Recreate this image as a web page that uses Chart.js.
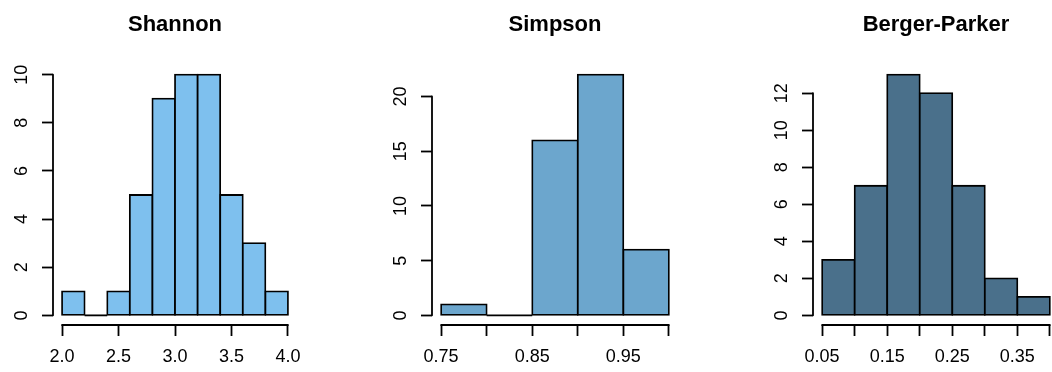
<!DOCTYPE html>
<html>
<head>
<meta charset="utf-8">
<script src="https://cdn.jsdelivr.net/npm/chart.js@4.4.1/dist/chart.umd.min.js"></script>
<style>
  html, body { margin: 0; padding: 0; background: #ffffff; overflow: hidden; width: 1052px; height: 372px; }
  .panel { position: absolute; top: 0; }
</style>
</head>
<body>
<canvas id="c1" class="panel" style="left:0px" width="311" height="372"></canvas>
<canvas id="c2" class="panel" style="left:379px" width="311" height="372"></canvas>
<canvas id="c3" class="panel" style="left:760px" width="311" height="372"></canvas>
<script>
// ---- Data ----
const shannonTitle = 'Shannon';
const shannonBreaks = [2.0, 2.2, 2.4, 2.6, 2.8, 3.0, 3.2, 3.4, 3.6, 3.8, 4.0];
const shannonCounts = [1, 0, 1, 5, 9, 10, 10, 5, 3, 1];
const shannonXTicks = [2.0, 2.5, 3.0, 3.5, 4.0];
const shannonXLabels = ['2.0', '2.5', '3.0', '3.5', '4.0'];
const shannonYTicks = [0, 2, 4, 6, 8, 10];
const shannonColor = '#7EC0EE';

const simpsonTitle = 'Simpson';
const simpsonBreaks = [0.75, 0.80, 0.85, 0.90, 0.95, 1.00];
const simpsonCounts = [1, 0, 16, 22, 6];
const simpsonXTicks = [0.75, 0.80, 0.85, 0.90, 0.95, 1.00];
const simpsonXLabels = ['0.75', '', '0.85', '', '0.95', ''];
const simpsonYTicks = [0, 5, 10, 15, 20];
const simpsonColor = '#6CA6CD';

const bpTitle = 'Berger-Parker';
const bpBreaks = [0.05, 0.10, 0.15, 0.20, 0.25, 0.30, 0.35, 0.40];
const bpCounts = [3, 7, 13, 12, 7, 2, 1];
const bpXTicks = [0.05, 0.10, 0.15, 0.20, 0.25, 0.30, 0.35, 0.40];
const bpXLabels = ['0.05', '', '0.15', '', '0.25', '', '0.35', ''];
const bpYTicks = [0, 2, 4, 6, 8, 10, 12];
const bpColor = '#4A708B';

// ---- Styling ----
const FONT = '"Liberation Sans", Arial, Helvetica, sans-serif';
Chart.defaults.color = '#000000';
Chart.defaults.font.family = FONT;

const rAxes = {
  id: 'rAxes',
  afterDraw(chart) {
    const { ctx, chartArea, scales: { x, y } } = chart;
    ctx.save();
    ctx.strokeStyle = '#000000';
    ctx.lineWidth = 1.8;
    ctx.lineCap = 'round';
    ctx.beginPath();
    const xt = x.ticks, yt = y.ticks;
    ctx.moveTo(x.getPixelForValue(xt[0].value), chartArea.bottom);
    ctx.lineTo(x.getPixelForValue(xt[xt.length - 1].value), chartArea.bottom);
    ctx.moveTo(chartArea.left, y.getPixelForValue(yt[0].value));
    ctx.lineTo(chartArea.left, y.getPixelForValue(yt[yt.length - 1].value));
    ctx.stroke();
    ctx.restore();
  }
};

const zeroBins = {
  id: 'zeroBins',
  afterDatasetsDraw(chart) {
    const meta = chart.getDatasetMeta(0);
    const data = chart.data.datasets[0].data;
    const ctx = chart.ctx;
    ctx.save();
    ctx.strokeStyle = '#000000';
    ctx.lineWidth = 1.8;
    meta.data.forEach((bar, i) => {
      if (data[i].y === 0) {
        const p = bar.getProps(['x', 'width', 'base'], true);
        ctx.beginPath();
        ctx.moveTo(p.x - p.width / 2, p.base);
        ctx.lineTo(p.x + p.width / 2, p.base);
        ctx.stroke();
      }
    });
    ctx.restore();
  }
};

function makeHist(id, title, breaks, counts, xTicks, xLabels, yTicks, color) {
  const points = counts.map((c, i) => ({ x: (breaks[i] + breaks[i + 1]) / 2, y: c }));
  const xr = breaks[breaks.length - 1] - breaks[0];
  const ymax = Math.max(...counts);
  new Chart(document.getElementById(id), {
    type: 'bar',
    data: {
      datasets: [{
        data: points,
        backgroundColor: color,
        borderColor: '#000000',
        borderWidth: 1.8,
        inflateAmount: 0.9,
        borderSkipped: false,
        barPercentage: 1,
        categoryPercentage: 1
      }]
    },
    options: {
      responsive: false,
      animation: false,
      devicePixelRatio: 1,
      events: [],
      layout: { padding: { left: 0, right: 12, top: 0, bottom: 0 } },
      plugins: {
        legend: { display: false },
        tooltip: { enabled: false },
        title: {
          display: true,
          text: title,
          fullSize: false,
          color: '#000000',
          font: { family: FONT, size: 22, weight: 'bold', lineHeight: 1.2 },
          padding: { top: 12, bottom: 26.6 }
        }
      },
      scales: {
        x: {
          type: 'linear',
          offset: false,
          bounds: 'data',
          min: breaks[0] - 0.04 * xr,
          max: breaks[breaks.length - 1] + 0.04 * xr,
          afterBuildTicks: (s) => { s.ticks = xTicks.map(v => ({ value: v })); },
          afterFit: (s) => { s.height = 47; },
          border: { display: false },
          grid: { display: true, offset: false, drawOnChartArea: false, drawTicks: true, tickLength: 11, tickColor: '#000000', tickWidth: 1.8, color: '#000000' },
          ticks: {
            autoSkip: false,
            maxRotation: 0,
            minRotation: 0,
            padding: 10,
            color: '#000000',
            font: { family: FONT, size: 18 },
            callback: (v, i) => xLabels[i]
          }
        },
        y: {
          type: 'linear',
          bounds: 'data',
          min: -0.04 * ymax,
          max: 1.04 * ymax,
          afterBuildTicks: (s) => { s.ticks = yTicks.map(v => ({ value: v })); },
          afterFit: (s) => { s.width = 53; },
          border: { display: false },
          grid: { display: true, offset: false, drawOnChartArea: false, drawTicks: true, tickLength: 11, tickColor: '#000000', tickWidth: 1.8, color: '#000000' },
          ticks: {
            autoSkip: false,
            minRotation: 90,
            maxRotation: 90,
            crossAlign: 'center',
            padding: 10,
            color: '#000000',
            font: { family: FONT, size: 18 },
            callback: (v) => String(v)
          }
        }
      }
    },
    plugins: [zeroBins, rAxes]
  });
}

makeHist('c1', shannonTitle, shannonBreaks, shannonCounts, shannonXTicks, shannonXLabels, shannonYTicks, shannonColor);
makeHist('c2', simpsonTitle, simpsonBreaks, simpsonCounts, simpsonXTicks, simpsonXLabels, simpsonYTicks, simpsonColor);
makeHist('c3', bpTitle, bpBreaks, bpCounts, bpXTicks, bpXLabels, bpYTicks, bpColor);
</script>
</body>
</html>
